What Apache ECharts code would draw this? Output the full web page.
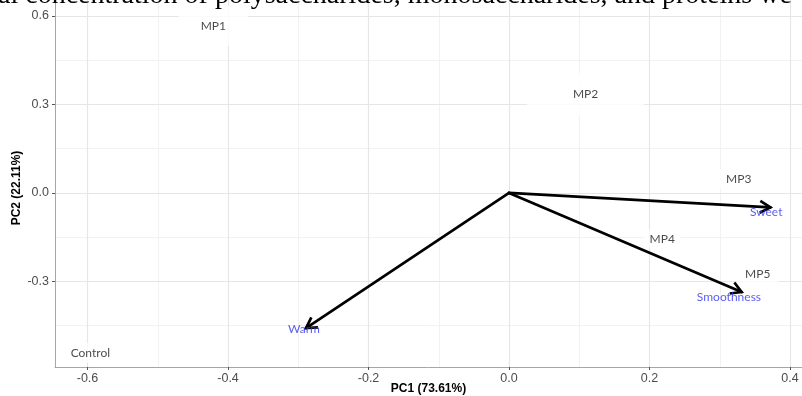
<!DOCTYPE html>
<html>
<head>
<meta charset="utf-8">
<script src="https://cdn.jsdelivr.net/npm/echarts@6/dist/echarts.min.js"></script>
<style>
  html, body { margin: 0; padding: 0; background: #ffffff; }
  #chart { width: 802px; height: 396px; }
</style>
</head>
<body>
<div id="chart"></div>
<script>
// PCA biplot: sample scores (PC1/PC2) and sensory attribute loadings
const sampleNames = ['MP1', 'MP2', 'MP3', 'MP4', 'MP5', 'Control'];
const samplePC1 = [-0.421, 0.109, 0.327, 0.218, 0.354, -0.596];
const samplePC2 = [0.566, 0.334, 0.047, -0.155, -0.274, -0.542];

const loadingNames = ['Sweet', 'Smoothness', 'Warm'];
const loadingPC1 = [0.372, 0.331, -0.289];
const loadingPC2 = [-0.049, -0.336, -0.458];
const loadingLabelPC1 = [0.366, 0.313, -0.292];
const loadingLabelPC2 = [-0.066, -0.352, -0.460];

const xTicks = [-0.6, -0.4, -0.2, 0.0, 0.2, 0.4];
const xMinor = [-0.5, -0.3, -0.1, 0.1, 0.3];
const yTicks = [-0.3, 0.0, 0.3, 0.6];
const yMinor = [-0.45, -0.15, 0.15, 0.45];

const xTitle = 'PC1 (73.61%)';
const yTitle = 'PC2 (22.11%)';
const runningText = 'al concentration of polysaccharides, monosaccharides, and proteins we';

// white boxes behind the sample labels
const labelBox = {
  MP1: [22, 22, 6, 22],
  MP2: [24, 46, 6, 46],
  MP3: [4, 8, 4, 8],
  MP4: [3, 6, 3, 6],
  MP5: [4, 8, 4, 8],
  Control: [4, 6, 4, 6]
};

const tickFmt = v => Number(v).toFixed(1);
const axisGrey = '#a6a6a6';

const gridLine = (axisKey, values, color, width) => values.map(v => ({
  [axisKey]: v,
  lineStyle: { color: color, width: width, type: 'solid' }
}));

const chart = echarts.init(document.getElementById('chart'), null, { renderer: 'canvas' });

chart.setOption({
  animation: false,
  backgroundColor: '#ffffff',
  grid: { left: 55, right: 0, top: 0, bottom: 29, containLabel: false },
  xAxis: {
    type: 'value',
    min: -0.6463,
    max: 0.417,
    splitLine: { show: false },
    axisLine: { show: true, onZero: false, lineStyle: { color: axisGrey, width: 1 } },
    axisTick: { show: true, customValues: xTicks, length: 3, lineStyle: { color: '#555555' } },
    axisLabel: {
      customValues: xTicks, formatter: tickFmt, margin: 5,
      color: '#4d4d4d', fontSize: 12.5, fontFamily: 'Liberation Sans'
    }
  },
  yAxis: {
    type: 'value',
    min: -0.590,
    max: 0.654,
    splitLine: { show: false },
    axisLine: { show: true, onZero: false, lineStyle: { color: axisGrey, width: 1 } },
    axisTick: { show: true, customValues: yTicks, length: 3, lineStyle: { color: '#555555' } },
    axisLabel: {
      customValues: yTicks, formatter: tickFmt, margin: 6,
      color: '#4d4d4d', fontSize: 12.5, fontFamily: 'Liberation Sans'
    }
  },
  graphic: [
    {
      type: 'text', x: 428.5, y: 389, z: 10,
      style: {
        text: xTitle, align: 'center', verticalAlign: 'middle',
        font: 'bold 12px "Liberation Sans"', fill: '#000000'
      }
    },
    {
      type: 'text', x: 16.7, y: 188, rotation: Math.PI / 2, z: 10,
      style: {
        text: yTitle, align: 'center', verticalAlign: 'middle',
        font: 'bold 12px "Liberation Sans"', fill: '#000000'
      }
    },
    {
      type: 'text', x: -2, y: 10, z: 20,
      style: {
        text: runningText, align: 'left', verticalAlign: 'bottom',
        font: '28px "Liberation Serif"', fill: '#000000'
      }
    }
  ],
  series: [
    {
      // panel grid lines
      type: 'scatter',
      data: [],
      z: 0,
      silent: true,
      markLine: {
        silent: true,
        z: 0,
        symbol: ['none', 'none'],
        label: { show: false },
        data: [
          ...gridLine('xAxis', xMinor, '#f2f2f2', 1),
          ...gridLine('yAxis', yMinor, '#f2f2f2', 1),
          ...gridLine('xAxis', xTicks, '#e6e6e6', 1.2),
          ...gridLine('yAxis', yTicks, '#e6e6e6', 1.2)
        ]
      }
    },
    {
      // sample labels
      type: 'scatter',
      z: 8,
      symbolSize: 1,
      itemStyle: { color: 'rgba(0,0,0,0)' },
      data: sampleNames.map((n, i) => ({
        name: n,
        value: [samplePC1[i], samplePC2[i]],
        label: { padding: labelBox[n] }
      })),
      label: {
        show: true, position: 'inside', formatter: '{b}',
        color: '#1a1a1a', fontSize: 12, fontFamily: 'Lato',
        backgroundColor: '#ffffff'
      }
    },
    {
      // loading arrows with open heads
      type: 'custom',
      z: 10,
      data: loadingNames.map((n, i) => [loadingPC1[i], loadingPC2[i]]),
      encode: { x: 0, y: 1 },
      renderItem: function (params, api) {
        const o = api.coord([0, 0]);
        const p = api.coord([api.value(0), api.value(1)]);
        const ang = Math.atan2(p[1] - o[1], p[0] - o[0]);
        const L = 12, a = Math.PI / 6;
        const h1 = [p[0] - L * Math.cos(ang - a), p[1] - L * Math.sin(ang - a)];
        const h2 = [p[0] - L * Math.cos(ang + a), p[1] - L * Math.sin(ang + a)];
        return {
          type: 'group',
          children: [
            { type: 'line', shape: { x1: o[0], y1: o[1], x2: p[0], y2: p[1] },
              style: { stroke: '#000000', lineWidth: 2.7, lineCap: 'round' } },
            { type: 'polyline', shape: { points: [h1, p, h2] },
              style: { stroke: '#000000', lineWidth: 2.7, fill: null, lineJoin: 'miter' } }
          ]
        };
      }
    },
    {
      // loading labels
      type: 'scatter',
      z: 12,
      symbolSize: 1,
      itemStyle: { color: 'rgba(0,0,0,0)' },
      data: loadingNames.map((n, i) => ({ name: n, value: [loadingLabelPC1[i], loadingLabelPC2[i]] })),
      label: {
        show: true, position: 'inside', formatter: '{b}',
        color: '#3333ee', fontSize: 12, fontFamily: 'Lato'
      }
    }
  ]
});
</script>
</body>
</html>
